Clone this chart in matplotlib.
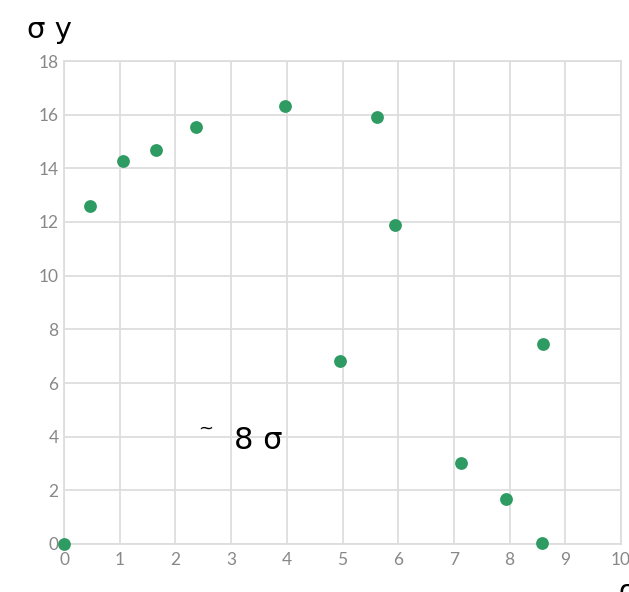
import numpy as np
import matplotlib.pyplot as plt

# Données
x_vals = [0.0, 0.47, 1.06, 1.65, 2.37, 3.97, 5.62, 5.94, 4.95, 8.60, 7.13, 7.94, 8.58]
y_vals = [0.0, 12.6, 14.27, 14.68, 15.54, 16.32, 15.91, 11.89, 6.82, 7.45, 3.02, 1.68, 0.04]
x_ticks = list(range(0, 11))
y_ticks = list(range(0, 19, 2))

Vert = '#2e9b62'
Gris = '#dddddd'

fig = plt.figure(figsize=(6.29, 5.92), dpi=100)
ax = fig.add_axes([64/629, 1 - 544/592, (621 - 64)/629, (544 - 61)/592])

ax.scatter(x_vals, y_vals, s=85, color=Vert, zorder=3, clip_on=False, linewidths=0)

ax.set_xlim(0, 10)
ax.set_ylim(0, 18)
ax.set_xticks(x_ticks)
ax.set_yticks(y_ticks)
ax.grid(True, color=Gris, linewidth=1.3)
ax.set_axisbelow(True)
for s in ax.spines.values():
    s.set_color(Gris)
    s.set_linewidth(1.3)
ax.tick_params(length=0, colors='#888888', labelsize=12.5)
ax.tick_params(axis='x', pad=6)
ax.tick_params(axis='y', pad=4)
for lab in ax.get_xticklabels() + ax.get_yticklabels():
    lab.set_family('Lato')

# Textes
fig.text(27/629, 1 - 30/592, 'σ y', fontsize=21, family='DejaVu Sans', va='center', ha='left')
ax.text(2.55, 4.3, '~', fontsize=13, family='DejaVu Sans', ha='center', va='center')
ax.text(3.05, 3.85, '8 σ', fontsize=22, family='DejaVu Sans', ha='left', va='center')
fig.text(619/629, 1 - 578/592, 'σ', fontsize=20, family='DejaVu Sans', va='top', ha='left')

fig.savefig('out.png', dpi=100)
